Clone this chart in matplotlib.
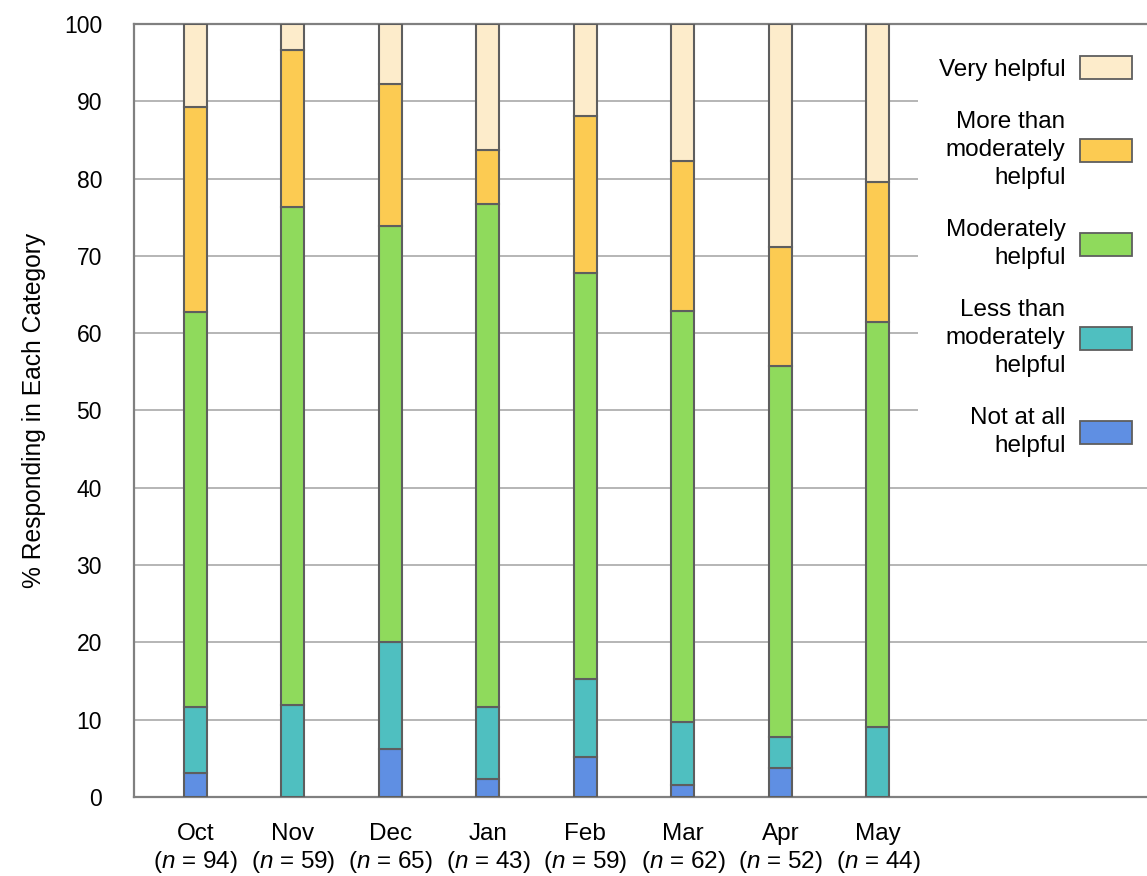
import numpy as np
import matplotlib.pyplot as plt
from matplotlib.patches import Patch

plt.rcParams['font.family'] = ['Liberation Sans', 'DejaVu Sans']
plt.rcParams['mathtext.fontset'] = 'custom'
plt.rcParams['mathtext.rm'] = 'Liberation Sans'
plt.rcParams['mathtext.it'] = 'Liberation Sans:italic'

# ----------------------------
#  Data (% responding)
# ----------------------------
meses = ["Oct", "Nov", "Dec", "Jan", "Feb", "Mar", "Apr", "May"]
n_resp = [94, 59, 65, 43, 59, 62, 52, 44]

nada = [3.1, 0.0, 6.2, 2.3, 5.2, 1.6, 3.8, 0.0]           # Not at all helpful
menos = [8.6, 11.9, 13.8, 9.3, 10.1, 8.1, 3.9, 9.1]        # Less than moderately
moderado = [51.1, 64.4, 53.9, 65.1, 52.5, 53.2, 48.1, 52.3]  # Moderately
mas = [26.5, 20.4, 18.4, 7.0, 20.3, 19.4, 15.4, 18.1]       # More than moderately
muy = [10.7, 3.3, 7.7, 16.3, 11.9, 17.7, 28.8, 20.5]        # Very helpful

etiquetas = ["Not at all\nhelpful", "Less than\nmoderately\nhelpful",
             "Moderately\nhelpful", "More than\nmoderately\nhelpful",
             "Very helpful"]
colores = ["#5f8fe3", "#4fbfc0", "#8fda5c", "#fccb52", "#fdeccb"]

series = [nada, menos, moderado, mas, muy]

fig = plt.figure(figsize=(11.47, 8.76), dpi=100)
ax = fig.add_axes([0.1168, 0.0902, 0.8832, 0.8824])

x = np.arange(len(meses))
base = np.zeros(len(meses))
for vals, col in zip(series, colores):
    vals = np.array(vals)
    ax.bar(x, vals, width=0.235, bottom=base, color=col,
           edgecolor="#5e5e5e", linewidth=1.5, zorder=3)
    base += vals

ax.set_xlim(-0.63, 9.76)
ax.set_ylim(0, 100)
ax.set_yticks(np.arange(0, 101, 10))
ax.yaxis.grid(True, color="#b0b0b0", linewidth=1.3, zorder=0)
ax.set_axisbelow(True)

for lado in ["left", "top", "bottom"]:
    ax.spines[lado].set_color("#808080")
    ax.spines[lado].set_linewidth(1.6)
ax.spines["right"].set_visible(False)

ax.tick_params(axis="both", length=0)
ax.tick_params(axis="y", pad=23, labelsize=16.5)
ax.set_xticks(x)
ax.set_xticklabels([f"{m}\n($\\it{{n}}$ = {k})" for m, k in zip(meses, n_resp)],
                   fontsize=17.5, linespacing=1.2)
ax.tick_params(axis="x", pad=19)

ax.set_ylabel("% Responding in Each Category", fontsize=17.7, labelpad=13)

handles = [Patch(facecolor=c, edgecolor="#5e5e5e", linewidth=1.3) for c in colores]
leg = ax.legend(handles[::-1], etiquetas[::-1], loc="upper right",
                bbox_to_anchor=(1.006, 0.985), markerfirst=False,
                fontsize=17.5, handlelength=2.15, handleheight=1.07,
                handletextpad=0.6, labelspacing=1.25, borderpad=0.85,
                borderaxespad=0, frameon=True, fancybox=False)
leg.get_frame().set_facecolor("white")
leg.get_frame().set_edgecolor("none")
leg.get_frame().set_alpha(1)
for t in leg.get_texts():
    t.set_multialignment("right")
    t.set_linespacing(1.34)

fig.savefig("out.png", dpi=100)
